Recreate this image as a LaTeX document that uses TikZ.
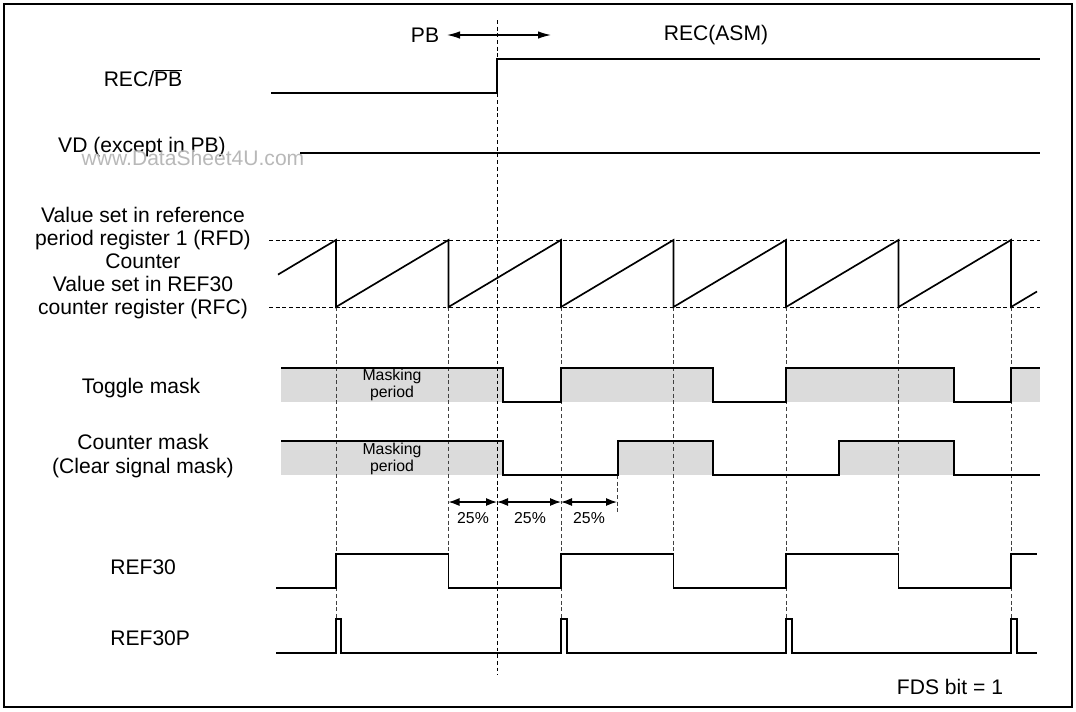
\documentclass[tikz,border=0pt]{standalone}
\usepackage{fontspec}
\setmainfont{Liberation Sans}
\usetikzlibrary{arrows.meta,positioning}

\begin{document}
\begin{tikzpicture}[x=0.02cm, y=-0.02cm,
    lbl/.style={align=center, inner sep=0pt, font=\fontsize{12}{13}\selectfont},
    small/.style={align=center, inner sep=0pt, font=\fontsize{9}{9.4}\selectfont},
    sig/.style={line width=0.95pt},
    guide/.style={line width=0.5pt, dash pattern=on 2.2pt off 1.6pt},
    shade/.style={fill=black!14},
    arrow/.style={{Latex[length=2.6mm,width=1.5mm]}-{Latex[length=2.6mm,width=1.5mm]}, line width=0.7pt},
    pct/.style={{Latex[length=2.2mm,width=1.6mm]}-{Latex[length=2.2mm,width=1.6mm]}, line width=0.7pt}
]
\useasboundingbox (0,0) rectangle (1076,711);
\draw[line width=1.6pt] (4,4) rectangle (1072,707);

% signal names
\node[lbl] (recpb) at (143,78) {REC/$\overline{\mbox{PB}}$};
\node[lbl] (vd) at (142,147) {VD (except in PB)};
\node[text=black!28, font=\fontsize{12}{13}\selectfont, inner sep=0pt] (wm) at (193,158) {www.DataSheet4U.com};
\node[lbl] (cnt) at (143,263) {Value set in reference\\period register 1 (RFD)\\Counter\\Value set in REF30\\counter register (RFC)};
\node[lbl] (toggle) at (141,388) {Toggle mask};
\node[lbl, font=\fontsize{12}{13.6}\selectfont] (cmask) at (143,456) {Counter mask\\(Clear signal mask)};
\node[lbl, anchor=west] (ref) at (110,567) {REF30};
\node[lbl, anchor=west] (refp) at (110,638) {REF30P};
\node[lbl] (fds) at (950,687) {FDS bit = 1};

% mode arrow
\node[lbl] (pb) at (425,35) {PB};
\node[lbl] (rec) at (716,35) {REC(ASM)};
\coordinate (pbL) at (447,35);
\coordinate (pbR) at (551,35);
\draw[arrow] (pbL) -- (pbR);

% masking periods
\fill[shade] (281,368) rectangle (503,402);
\fill[shade] (561,368) rectangle (713,402);
\fill[shade] (786,368) rectangle (954,402);
\fill[shade] (1011,368) rectangle (1040,402);
\fill[shade] (281,441) rectangle (503,475);
\fill[shade] (618,441) rectangle (713,475);
\fill[shade] (839,441) rectangle (954,475);
\node[small] (mtog) at (392,385) {Masking\\period};
\node[small] (mcnt) at (392,459) {Masking\\period};

% dashed guides
\draw[guide] (497,20) -- (497,675);
\draw[guide] (269,240) -- (1040,240);
\draw[guide] (269,307) -- (1040,307);
\foreach \x in {336,561,786,1011}
    \draw[guide, black!75] (\x,307) -- (\x,619);
\foreach \x in {448.5,673.5,898.5}
    \draw[guide, black!75] (\x,307) -- (\x,554);
\draw[guide, black!75] (617,475) -- (617,512);

% 25% spans
\coordinate (q0) at (448.5,502);
\coordinate (q1) at (497,502);
\coordinate (q2) at (561,502);
\coordinate (q3) at (617,502);
\draw[pct] (q0) -- (q1);
\draw[pct] (q1) -- (q2);
\draw[pct] (q2) -- (q3);
\node[small] (p1) at (473,518) {25\%};
\node[small] (p2) at (530,518) {25\%};
\node[small] (p3) at (589,518) {25\%};

% waveforms
\draw[sig] (271,93) -- (497,93) -- (497,59) -- (1040,59);
\draw[sig] (300,153) -- (1040,153);
\draw[sig] (278,274.6) -- (336,240) -- (336,307) -- (448.5,240) -- (448.5,307)
    -- (561,240) -- (561,307) -- (673.5,240) -- (673.5,307) -- (786,240) -- (786,307)
    -- (898.5,240) -- (898.5,307) -- (1011,240) -- (1011,307) -- (1037,291.5);
\draw[sig] (281,368) -- (503,368) -- (503,402) -- (561,402) -- (561,368) -- (713,368)
    -- (713,402) -- (786,402) -- (786,368) -- (954,368) -- (954,402) -- (1011,402)
    -- (1011,368) -- (1040,368);
\draw[sig] (281,441) -- (503,441) -- (503,475) -- (618,475) -- (618,441) -- (713,441)
    -- (713,475) -- (839,475) -- (839,441) -- (954,441) -- (954,475) -- (1040,475);
\draw[sig] (276,588) -- (336,588) -- (336,554) -- (448.5,554) -- (448.5,588) -- (561,588)
    -- (561,554) -- (673.5,554) -- (673.5,588) -- (786,588) -- (786,554) -- (898.5,554)
    -- (898.5,588) -- (1011,588) -- (1011,554) -- (1037,554);
\draw[sig] (276,653) -- (336,653) -- (336,619) -- (341,619) -- (341,653) -- (561,653)
    -- (561,619) -- (567,619) -- (567,653) -- (786,653) -- (786,619) -- (792,619)
    -- (792,653) -- (1011,653) -- (1011,619) -- (1017,619) -- (1017,653) -- (1037,653);
\end{tikzpicture}
\end{document}
